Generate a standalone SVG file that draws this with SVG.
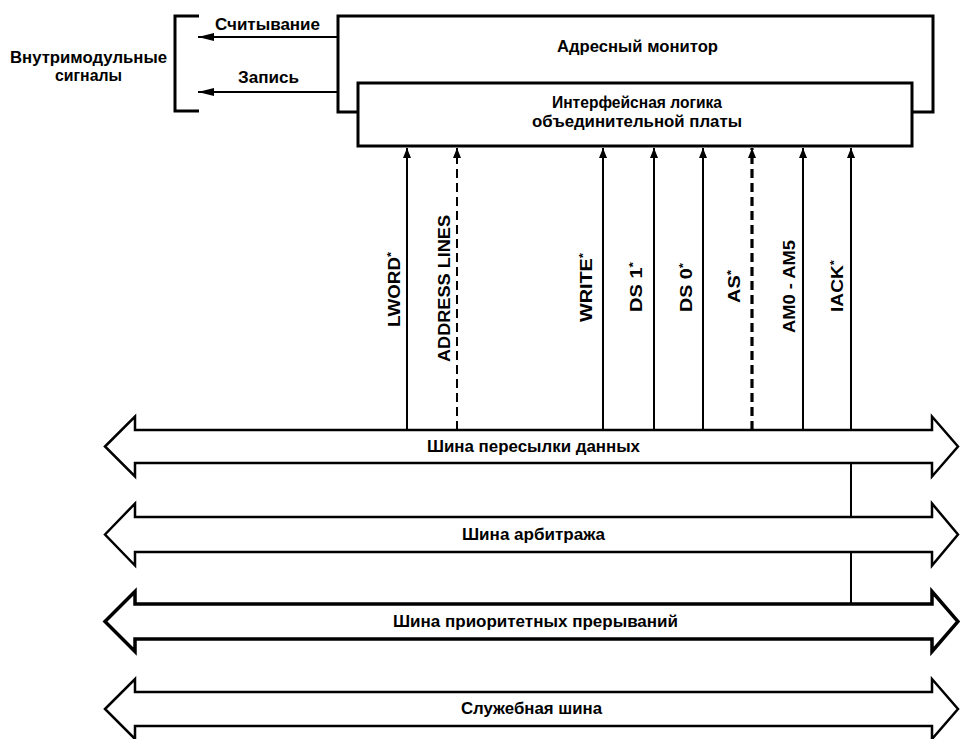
<svg xmlns="http://www.w3.org/2000/svg" width="960" height="739" viewBox="0 0 960 739">
<defs>
<style>
.box{fill:#fff;stroke:#000;stroke-width:3}
.bus{fill:#fff;stroke:#000;stroke-width:2.5;stroke-linejoin:miter}
.bus.thick{stroke-width:3.5}
.sig{stroke:#000;stroke-width:2;fill:none}
.dash{stroke-dasharray:9,5}
.dash.thick{stroke-width:3.2}
.t{font-family:"Liberation Sans",Arial,sans-serif;font-weight:bold;font-size:16px;fill:#000}
.m{text-anchor:middle}
</style>
<marker id="up" viewBox="0 0 10 8" refX="10" refY="4" markerWidth="10" markerHeight="8" markerUnits="userSpaceOnUse" orient="auto">
<path d="M0,0 L10,4 L0,8 z" fill="#000"/>
</marker>
<marker id="left" viewBox="0 0 16 8" refX="16" refY="4" markerWidth="16" markerHeight="8" markerUnits="userSpaceOnUse" orient="auto">
<path d="M0,0 L16,4 L0,8 z" fill="#000"/>
</marker>
</defs>
<rect width="960" height="739" fill="#fff"/>

<g id="internal-signals">
<path d="M199,16 L175,16 L175,111 L199,111" fill="none" stroke="#000" stroke-width="3"/>
<text class="t" x="10" y="63" textLength="157" lengthAdjust="spacingAndGlyphs">Внутримодульные</text>
<text class="t" x="55" y="81" textLength="67" lengthAdjust="spacingAndGlyphs">сигналы</text>
</g>

<g id="address-monitor">
<rect class="box" x="338" y="16" width="595" height="96"/>
<text class="t" x="557" y="52" textLength="161" lengthAdjust="spacingAndGlyphs">Адресный монитор</text>
</g>

<g id="interface-logic">
<rect class="box" x="358" y="83" width="554" height="63"/>
<text class="t" x="552" y="108" textLength="170" lengthAdjust="spacingAndGlyphs">Интерфейсная логика</text>
<text class="t" x="532" y="127" textLength="210" lengthAdjust="spacingAndGlyphs">объединительной платы</text>
</g>

<g id="bus-data">
<polygon class="bus" points="105,446.5 135,416.5 135,430 932,430 932,416.5 958,446.5 932,476.5 932,463 135,463 135,476.5"/>
<text class="t" x="427" y="452" textLength="213" lengthAdjust="spacingAndGlyphs">Шина пересылки данных</text>
</g>
<g id="bus-arbitration">
<polygon class="bus" points="105,534.5 135,503.5 135,517 932,517 932,503.5 958,534.5 932,565.5 932,552 135,552 135,565.5"/>
<text class="t" x="462" y="540" textLength="143" lengthAdjust="spacingAndGlyphs">Шина арбитража</text>
</g>
<g id="bus-priority">
<polygon class="bus thick" points="105,621.5 135,591.5 135,604 932,604 932,591.5 958,621.5 932,651.5 932,639 135,639 135,651.5"/>
<text class="t" x="393" y="627" textLength="285" lengthAdjust="spacingAndGlyphs">Шина приоритетных прерываний</text>
</g>
<g id="bus-utility">
<polygon class="bus" points="105,709 135,679 135,692 932,692 932,679 958,709 932,739 932,726 135,726 135,739"/>
<text class="t" x="461" y="714" textLength="141" lengthAdjust="spacingAndGlyphs">Служебная шина</text>
</g>

<g id="connectors">
<line class="sig" x1="337" y1="37" x2="198" y2="37" marker-end="url(#left)"/>
<line class="sig" x1="337" y1="92" x2="198" y2="92" marker-end="url(#left)"/>
<line class="sig" x1="407" y1="430" x2="407" y2="148" marker-end="url(#up)"/>
<line class="sig dash" x1="457" y1="430" x2="457" y2="148" marker-end="url(#up)"/>
<line class="sig" x1="603" y1="430" x2="603" y2="148" marker-end="url(#up)"/>
<line class="sig" x1="654" y1="430" x2="654" y2="148" marker-end="url(#up)"/>
<line class="sig" x1="703" y1="430" x2="703" y2="148" marker-end="url(#up)"/>
<line class="sig dash thick" x1="752" y1="430" x2="752" y2="148" marker-end="url(#up)"/>
<line class="sig" x1="803" y1="430" x2="803" y2="148" marker-end="url(#up)"/>
<line class="sig" x1="851" y1="430" x2="851" y2="148" marker-end="url(#up)"/>
<line class="sig" x1="851" y1="463" x2="851" y2="517"/>
<line class="sig" x1="851" y1="552" x2="851" y2="604"/>
</g>

<g id="labels">
<text class="t" x="215" y="30" textLength="105" lengthAdjust="spacingAndGlyphs">Считывание</text>
<text class="t" x="238" y="83" textLength="61" lengthAdjust="spacingAndGlyphs">Запись</text>
<text class="t m" transform="translate(400,289.5) rotate(-90)" textLength="75" lengthAdjust="spacingAndGlyphs">LWORD<tspan dy="-5" font-size="11">*</tspan></text>
<text class="t m" transform="translate(450,288.5) rotate(-90)" textLength="147" lengthAdjust="spacingAndGlyphs">ADDRESS LINES</text>
<text class="t m" transform="translate(592,287.5) rotate(-90)" textLength="69" lengthAdjust="spacingAndGlyphs">WRITE<tspan dy="-5" font-size="11">*</tspan></text>
<text class="t m" transform="translate(642,287) rotate(-90)" textLength="50" lengthAdjust="spacingAndGlyphs">DS 1<tspan dy="-5" font-size="11">*</tspan></text>
<text class="t m" transform="translate(692,287.5) rotate(-90)" textLength="49" lengthAdjust="spacingAndGlyphs">DS 0<tspan dy="-5" font-size="11">*</tspan></text>
<text class="t m" transform="translate(740,286.5) rotate(-90)" textLength="33" lengthAdjust="spacingAndGlyphs">AS<tspan dy="-5" font-size="11">*</tspan></text>
<text class="t m" transform="translate(795,286.5) rotate(-90)" textLength="93" lengthAdjust="spacingAndGlyphs">AM0 - AM5</text>
<text class="t m" transform="translate(843,286) rotate(-90)" textLength="52" lengthAdjust="spacingAndGlyphs">IACK<tspan dy="-5" font-size="11">*</tspan></text>
</g>
</svg>
